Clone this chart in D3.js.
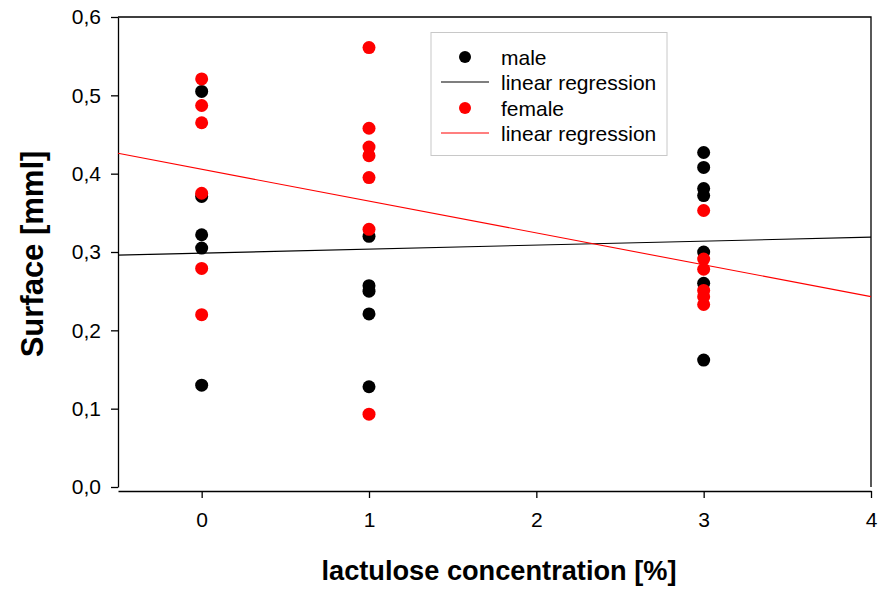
<!DOCTYPE html>
<html>
<head>
<meta charset="utf-8">
<script src="https://cdn.jsdelivr.net/npm/d3@7"></script>
<style>
  html, body { margin: 0; padding: 0; background: #fff; }
  svg { display: block; }
  text { font-family: "Liberation Sans", Arial, sans-serif; }
</style>
</head>
<body>
<svg id="chart" width="878" height="589"></svg>
<script>
// Lactulose concentration [%] at which each animal was measured
const maleConc   = [0, 0, 0, 0, 0,  1, 1, 1, 1, 1,  3, 3, 3, 3, 3, 3, 3];
const maleArea   = [0.505, 0.371, 0.322, 0.305, 0.130,
                    0.320, 0.257, 0.250, 0.221, 0.128,
                    0.427, 0.408, 0.381, 0.372, 0.300, 0.260, 0.162];

const femaleConc = [0, 0, 0, 0, 0, 0,  1, 1, 1, 1, 1, 1, 1,  3, 3, 3, 3, 3, 3];
const femaleArea = [0.521, 0.487, 0.465, 0.375, 0.279, 0.220,
                    0.561, 0.458, 0.434, 0.423, 0.395, 0.329, 0.093,
                    0.353, 0.291, 0.278, 0.251, 0.243, 0.233];

// Fitted regression lines, given at both ends of the x range
const fitX       = [-0.5, 4];
const maleFit    = [0.296, 0.319];
const femaleFit  = [0.426, 0.243];

// Axis ticks and legend entries
const xTicks = [0, 1, 2, 3, 4];
const yTicks = [0, 0.1, 0.2, 0.3, 0.4, 0.5, 0.6];
const legendLabels = ["male", "linear regression", "female", "linear regression"];
const legendColors = ["#000000", "#000000", "#ff0000", "#ff0000"];
const legendKinds  = ["dot", "line", "dot", "line"];

const svg = d3.select("#chart");
const plotLeft = 118, plotRight = 871, plotTop = 17, plotBottom = 487, xAxisY = 491;

const x = d3.scaleLinear().domain([-0.5, 4]).range([plotLeft, plotRight]);
const y = d3.scaleLinear().domain([0, 0.6]).range([plotBottom, plotTop]);

const commaLocale = d3.formatLocale({ decimal: ",", thousands: ".", grouping: [3], currency: ["", ""] });
const yFmt = commaLocale.format(".1f");

// Frame: top and right edges
svg.append("path")
  .attr("d", `M${plotLeft},${plotTop}H${plotRight}V${plotBottom}`)
  .attr("fill", "none").attr("stroke", "#000").attr("stroke-width", 1.3);

// Y axis
const yAxis = svg.append("g")
  .attr("transform", `translate(${plotLeft},0)`)
  .call(d3.axisLeft(y).tickValues(yTicks).tickFormat(yFmt).tickSize(7).tickSizeOuter(0).tickPadding(10));
yAxis.selectAll("path, line").attr("stroke", "#000").attr("stroke-width", 1.3);
yAxis.selectAll("text").attr("font-size", 21).attr("fill", "#000")
  .style("font-family", "'Liberation Sans', Arial, sans-serif");

// X axis, set slightly below the plot area
const xAxis = svg.append("g")
  .attr("transform", `translate(0,${xAxisY})`)
  .call(d3.axisBottom(x).tickValues(xTicks).tickFormat(d3.format("d")).tickSize(7).tickSizeOuter(0).tickPadding(14));
xAxis.selectAll("path, line").attr("stroke", "#000").attr("stroke-width", 1.3);
xAxis.selectAll("text").attr("font-size", 21).attr("fill", "#000")
  .style("font-family", "'Liberation Sans', Arial, sans-serif");

// Axis titles
svg.append("text")
  .attr("x", 499).attr("y", 580)
  .attr("text-anchor", "middle").attr("font-size", 27.2).attr("font-weight", "bold")
  .text("lactulose concentration [%]");

svg.append("text")
  .attr("transform", "translate(43,254) rotate(-90)")
  .attr("text-anchor", "middle").attr("font-size", 31).attr("font-weight", "bold")
  .text("Surface [mml]");

const line = d3.line().x(d => x(d[0])).y(d => y(d[1]));
const plot = svg.append("g");

function drawSeries(conc, area, fit, color) {
  plot.append("g").selectAll("circle")
    .data(d3.zip(conc, area))
    .join("circle")
    .attr("cx", d => x(d[0])).attr("cy", d => y(d[1]))
    .attr("r", 6.5).attr("fill", color);
  plot.append("path")
    .datum(d3.zip(fitX, fit))
    .attr("d", line).attr("fill", "none")
    .attr("stroke", color).attr("stroke-width", 1.1);
}
drawSeries(maleConc, maleArea, maleFit, "#000000");
drawSeries(femaleConc, femaleArea, femaleFit, "#ff0000");

// Legend
const lg = svg.append("g");
lg.append("rect")
  .attr("x", 431).attr("y", 32.5).attr("width", 236).attr("height", 123)
  .attr("fill", "#fff").attr("stroke", "#c8c8c8").attr("stroke-width", 1);
const rowY = [57, 82, 108, 133];
legendLabels.forEach((label, i) => {
  if (legendKinds[i] === "dot") {
    lg.append("circle").attr("cx", 465).attr("cy", rowY[i]).attr("r", 6).attr("fill", legendColors[i]);
  } else {
    lg.append("line").attr("x1", 441).attr("x2", 489).attr("y1", rowY[i]).attr("y2", rowY[i])
      .attr("stroke", legendColors[i]).attr("stroke-width", 1.1);
  }
  lg.append("text").attr("x", 501).attr("y", rowY[i]).attr("dy", "0.36em")
    .attr("font-size", 21).attr("fill", "#000").text(label);
});
</script>
</body>
</html>
